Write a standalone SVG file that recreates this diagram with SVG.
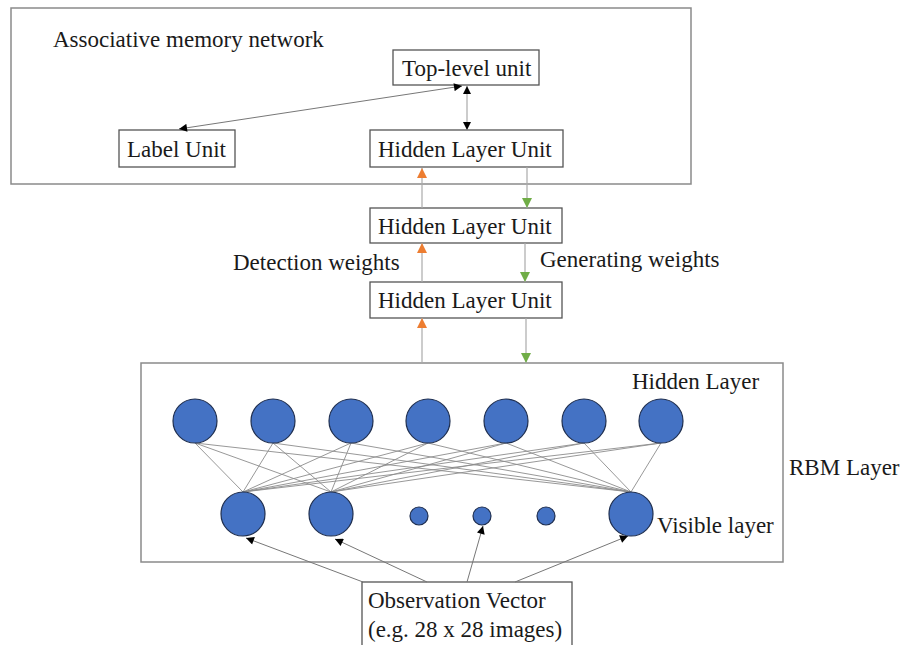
<svg xmlns="http://www.w3.org/2000/svg" width="903" height="645" viewBox="0 0 903 645">
<defs>
<marker id="ab" viewBox="0 0 10 10" refX="10" refY="5" markerWidth="9" markerHeight="8" markerUnits="userSpaceOnUse" orient="auto-start-reverse"><path d="M0,0 L10,5 L0,10 z" fill="#000"/></marker>
<marker id="ao" viewBox="0 0 10 10" refX="10" refY="5" markerWidth="10" markerHeight="10" markerUnits="userSpaceOnUse" orient="auto"><path d="M0,0 L10,5 L0,10 z" fill="#ed7d31"/></marker>
<marker id="ag" viewBox="0 0 10 10" refX="10" refY="5" markerWidth="10" markerHeight="10" markerUnits="userSpaceOnUse" orient="auto"><path d="M0,0 L10,5 L0,10 z" fill="#70ad47"/></marker>
</defs>
<style>
.frame{fill:#fff;stroke:#8a8a8a;stroke-width:1.5}
.box{fill:#fff;stroke:#555;stroke-width:1.3}
.c{fill:#4472c4;stroke:#1f2f50;stroke-width:1.2}
.w{stroke:#8c8c8c;stroke-width:0.9;fill:none}
.g{stroke:#aaa;stroke-width:1.2;fill:none}
.k{stroke:#777;stroke-width:1;fill:none}
</style>
<rect width="903" height="645" fill="#fff"/>
<g font-family="'Liberation Serif', 'Times New Roman', serif" font-size="23" fill="#1a1a1a">
<g id="associative-memory">
<rect class="frame" x="11" y="8" width="680" height="176"/>
<text x="53" y="47">Associative memory network</text>
</g>
<g id="rbm-layer">
<rect class="frame" x="141" y="363" width="642" height="199"/>
<text x="632" y="389">Hidden Layer</text>
<text x="657" y="533">Visible layer</text>
<text x="789" y="475">RBM Layer</text>
</g>
<g id="top-level-unit"><rect class="box" x="393" y="50" width="146" height="35"/><text x="402" y="76">Top-level unit</text></g>
<g id="label-unit"><rect class="box" x="119" y="130" width="116" height="37"/><text x="127" y="157">Label Unit</text></g>
<g id="hidden-unit-1"><rect class="box" x="370" y="130" width="193" height="37"/><text x="378" y="157">Hidden Layer Unit</text></g>
<g id="hidden-unit-2"><rect class="box" x="370" y="208" width="192" height="35"/><text x="378" y="234">Hidden Layer Unit</text></g>
<g id="hidden-unit-3"><rect class="box" x="370" y="282" width="192" height="36"/><text x="378" y="308">Hidden Layer Unit</text></g>
<g id="observation-vector"><rect class="box" x="362" y="582" width="210" height="70"/><text x="368" y="608">Observation Vector</text><text x="368" y="637">(e.g. 28 x 28 images)</text></g>
<g id="weight-labels">
<text x="233" y="270">Detection weights</text>
<text x="540" y="267">Generating weights</text>
</g>
</g>
<g id="connectors">
<line class="k" x1="462" y1="86" x2="179" y2="129" marker-start="url(#ab)" marker-end="url(#ab)"/>
<line class="g" x1="467" y1="86" x2="467" y2="130" marker-start="url(#ab)" marker-end="url(#ab)"/>
<line class="g" x1="422" y1="208" x2="422" y2="168" marker-end="url(#ao)"/>
<line class="g" x1="422" y1="282" x2="422" y2="243" marker-end="url(#ao)"/>
<line class="g" x1="422" y1="363" x2="422" y2="318" marker-end="url(#ao)"/>
<line class="g" x1="527" y1="167" x2="527" y2="208" marker-end="url(#ag)"/>
<line class="g" x1="525" y1="243" x2="525" y2="282" marker-end="url(#ag)"/>
<line class="g" x1="526" y1="318" x2="526" y2="363" marker-end="url(#ag)"/>
<g id="weights">
<path class="w" d="M195,443 L243,492 M195,443 L331,492 M195,443 L631,492
M273,443 L243,492 M273,443 L331,492 M273,443 L631,492
M351,443 L243,492 M351,443 L331,492 M351,443 L631,492
M428,443 L243,492 M428,443 L331,492 M428,443 L631,492
M506,443 L243,492 M506,443 L331,492 M506,443 L631,492
M584,443 L243,492 M584,443 L331,492 M584,443 L631,492
M661,443 L243,492 M661,443 L331,492 M661,443 L631,492"/>
</g>
<line class="k" x1="363" y1="582" x2="246" y2="538" marker-end="url(#ab)"/>
<line class="k" x1="427" y1="582" x2="335" y2="539" marker-end="url(#ab)"/>
<line class="k" x1="467" y1="582" x2="483" y2="526" marker-end="url(#ab)"/>
<line class="k" x1="515" y1="582" x2="628" y2="536" marker-end="url(#ab)"/>
</g>
<g id="hidden-neurons">
<circle class="c" cx="195" cy="421" r="22"/>
<circle class="c" cx="273" cy="421" r="22"/>
<circle class="c" cx="351" cy="421" r="22"/>
<circle class="c" cx="428" cy="421" r="22"/>
<circle class="c" cx="506" cy="421" r="22"/>
<circle class="c" cx="584" cy="421" r="22"/>
<circle class="c" cx="661" cy="421" r="22"/>
</g>
<g id="visible-neurons">
<circle class="c" cx="243" cy="514" r="22"/>
<circle class="c" cx="331" cy="514" r="22"/>
<circle class="c" cx="419" cy="516" r="9"/>
<circle class="c" cx="482" cy="516" r="9"/>
<circle class="c" cx="546" cy="516" r="9"/>
<circle class="c" cx="631" cy="514" r="22"/>
</g>
</svg>
